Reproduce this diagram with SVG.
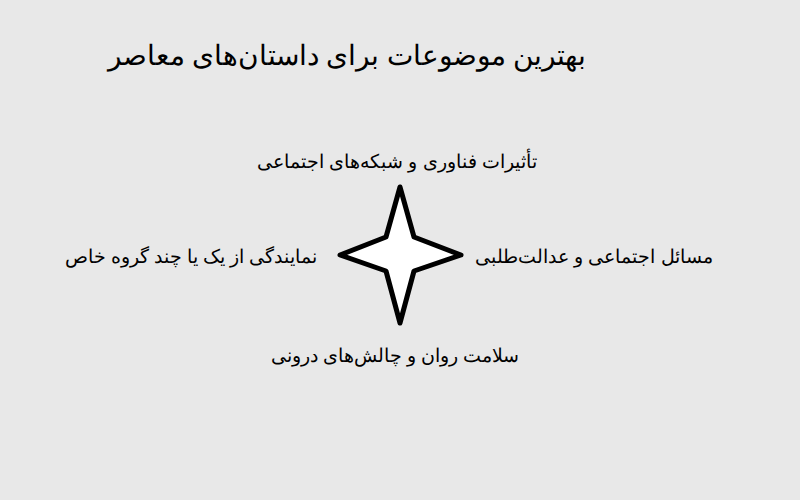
<svg xmlns="http://www.w3.org/2000/svg" width="800" height="500" viewBox="0 0 800 500">
<style>
text{font-family:"Noto Sans",sans-serif;fill:#000;direction:rtl;text-anchor:middle}
.t{font-size:27.8px}
.l{font-size:19.3px}
</style>
<rect width="800" height="500" fill="#e8e8e8"/>
<g id="title"><text class="t" x="347" y="65">بهترین موضوعات برای داستان‌های معاصر</text></g>
<g id="star"><path d="M400,187 L414,237 L461,255 L414,271 L400,323 L386,271 L340,255 L386,237 Z" fill="#fff" stroke="#000" stroke-width="5" stroke-linejoin="round"/></g>
<g id="top"><text class="l" x="397" y="168">تأثیرات فناوری و شبکه‌های اجتماعی</text></g>
<g id="left"><text class="l" x="191" y="263">نمایندگی از یک یا چند گروه خاص</text></g>
<g id="right"><text class="l" x="594" y="263">مسائل اجتماعی و عدالت‌طلبی</text></g>
<g id="bottom"><text class="l" x="395" y="362">سلامت روان و چالش‌های درونی</text></g>
<g id="connectors"></g>
</svg>
